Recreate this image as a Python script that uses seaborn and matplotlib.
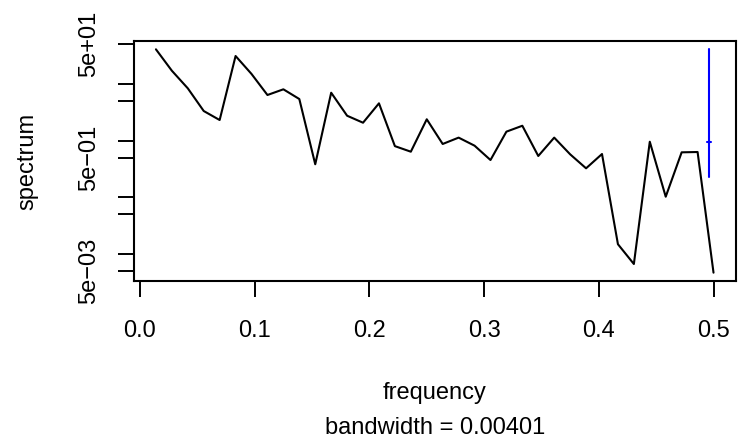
import numpy as np
import pandas as pd
import matplotlib
matplotlib.use("Agg")
import matplotlib.pyplot as plt
import seaborn as sns
from matplotlib.ticker import NullLocator, FixedLocator

# periodogram (frequency k/72, log-scale spectrum)
freq = [0.01389, 0.02778, 0.04167, 0.05556, 0.06944, 0.08333, 0.09722, 0.11111,
        0.12500, 0.13889, 0.15278, 0.16667, 0.18056, 0.19444, 0.20833, 0.22222,
        0.23611, 0.25000, 0.26389, 0.27778, 0.29167, 0.30556, 0.31944, 0.33333,
        0.34722, 0.36111, 0.37500, 0.38889, 0.40278, 0.41667, 0.43056, 0.44444,
        0.45833, 0.47222, 0.48611, 0.50000]
spec = [40.8, 17.1, 8.37, 3.33, 2.31, 31.1, 15.0, 6.38,
        8.04, 5.42, 0.383, 7.0, 2.75, 2.07, 4.55, 0.80,
        0.638, 2.38, 0.873, 1.13, 0.815, 0.455, 1.44, 1.83,
        0.536, 1.13, 0.574, 0.325, 0.581, 0.0149, 0.00667, 0.957,
        0.1026, 0.622, 0.630, 0.00469]

bandwidth = 0.00401
ci_x = 0.49599
ci_lower, ci_center, ci_upper = 0.23, 0.96, 40.8

ytick_vals = [50, 10, 5, 1, 0.5, 0.1, 0.05, 0.01, 0.005]
ytick_labels = ["5e+01", "", "", "", "5e\u221201", "", "", "", "5e\u221203"]
xtick_vals = [0.0, 0.1, 0.2, 0.3, 0.4, 0.5]
xtick_labels = ["0.0", "0.1", "0.2", "0.3", "0.4", "0.5"]

df = pd.DataFrame({"frequency": freq, "spectrum": spec})

sns.set_style("white")
plt.rcParams["font.family"] = ["Liberation Sans", "DejaVu Sans"]
plt.rcParams["text.color"] = "black"
plt.rcParams["xtick.color"] = "black"
plt.rcParams["ytick.color"] = "black"

fig = plt.figure(figsize=(7.53, 4.42), dpi=100)
ax = fig.add_axes([134 / 753, 161 / 442, 602 / 753, 240 / 442])

sns.lineplot(data=df, x="frequency", y="spectrum", color="black",
             linewidth=1.5, ax=ax, estimator=None, sort=False)
ax.set_yscale("log")

# confidence interval bar
ax.plot([ci_x, ci_x], [ci_lower, ci_upper], color="#0000FF", linewidth=1.5)
ax.plot([ci_x - bandwidth / 2, ci_x + bandwidth / 2], [ci_center, ci_center],
        color="#0000FF", linewidth=1.5)

ax.set_xlim(-0.00523, 0.5196)
ax.set_ylim(0.003345, 57.18)

ax.xaxis.set_major_locator(FixedLocator(xtick_vals))
ax.set_xticklabels(xtick_labels, fontsize=17)
ax.yaxis.set_major_locator(FixedLocator(ytick_vals))
ax.yaxis.set_minor_locator(NullLocator())
ax.set_yticklabels(ytick_labels, fontsize=17, rotation=90, va="center")
ax.tick_params(axis="both", direction="out", length=11.3, width=1.4,
               color="black", labelcolor="black", left=True, bottom=True)
ax.tick_params(axis="x", pad=16.5)
ax.tick_params(axis="y", pad=13)

for s in ax.spines.values():
    s.set_visible(True)
    s.set_color("black")
    s.set_linewidth(1.5)

ax.set_xlabel("")
ax.set_ylabel("")
ax.text(0.5, -0.4917, "frequency", transform=ax.transAxes, ha="center",
        va="baseline", fontsize=17, color="black")
ax.text(0.5, -0.6375, "bandwidth = 0.00401", transform=ax.transAxes,
        ha="center", va="baseline", fontsize=17, color="black")
ax.text(-0.1769, 0.5, "spectrum", transform=ax.transAxes, ha="center",
        va="center", rotation=90, fontsize=17, color="black")

fig.savefig("out.png", dpi=100)
